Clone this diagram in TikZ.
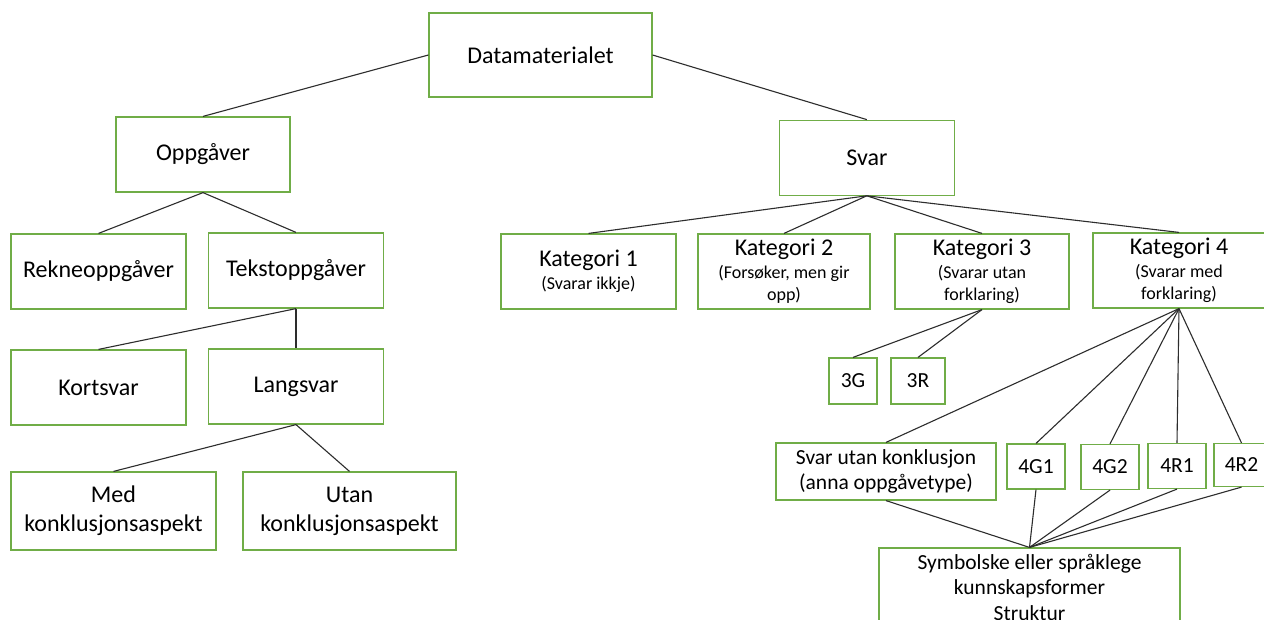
\documentclass[tikz,border=0pt]{standalone}
\usepackage{fontspec}
\setmainfont{Carlito}
\definecolor{boxgreen}{RGB}{112,173,71}
\definecolor{linegray}{RGB}{45,45,45}
\newcommand{\fbig}{\fontsize{24}{29}\selectfont}
\newcommand{\fmid}{\fontsize{21.5}{25.5}\selectfont}
\newcommand{\fsub}{\fontsize{18}{22.5}\selectfont}
\begin{document}
\begin{tikzpicture}[x=1pt,y=-1pt,
  box/.style={draw=boxgreen, line width=1.2pt, inner sep=0pt, align=center, font=\fbig},
  midbox/.style={box, font=\fmid},
  katbox/.style={box, font=\fsub},
  link/.style={draw=linegray, line width=1.1pt}]
\useasboundingbox (0,0) rectangle (1264,619);
\clip (0,0) rectangle (1264,619);
\fill[white] (0,0) rectangle (1264,619);

% left tree
\node[box, minimum width=223pt, minimum height=84pt] (data) at (540.5,55) {Datamaterialet};
\node[box, minimum width=174pt, minimum height=75pt] (opp) at (203,154.5) {Oppgåver};
\node[box, minimum width=175pt, minimum height=75pt] (rekne) at (98.5,271.5) {Rekneoppgåver};
\node[box, minimum width=175pt, minimum height=75pt] (tekst) at (296,270.5) {Tekstoppgåver};
\node[box, minimum width=175pt, minimum height=75pt] (kort) at (98.5,387.5) {Kortsvar};
\node[box, minimum width=175pt, minimum height=75pt] (lang) at (296,386.5) {Langsvar};
\node[box, minimum width=205pt, minimum height=78pt] (med) at (113.5,511) {Med\\konklusjonsaspekt};
\node[box, minimum width=213pt, minimum height=78pt] (utan) at (349.5,511) {Utan\\konklusjonsaspekt};

% right tree
\node[box, minimum width=175pt, minimum height=75pt] (svar) at (866.8,157.7) {Svar};
\node[katbox, minimum width=175pt, minimum height=75pt] (kat1) at (588.5,271.5) {{\fbig Kategori 1}\\(Svarar ikkje)};
\node[katbox, minimum width=172pt, minimum height=75pt] (kat2) at (784,271.5) {{\fbig Kategori 2}\\(Forsøker, men gir\\opp)};
\node[katbox, minimum width=174pt, minimum height=75pt] (kat3) at (982,271.5) {{\fbig Kategori 3}\\(Svarar utan\\forklaring)};
\node[katbox, minimum width=172pt, minimum height=75pt] (kat4) at (1179,270.5) {{\fbig Kategori 4}\\(Svarar med\\forklaring)};

\node[midbox, minimum width=48pt, minimum height=46pt] (g3) at (853,381) {3G};
\node[midbox, minimum width=54pt, minimum height=46pt] (r3) at (918,381) {3R};

\node[midbox, minimum width=220pt, minimum height=57pt] (svu) at (886,471.5) {Svar utan konklusjon\\(anna oppgåvetype)};
\node[midbox, minimum width=58pt, minimum height=45pt] (g41) at (1036,466.5) {4G1};
\node[midbox, minimum width=58pt, minimum height=45pt] (g42) at (1110,467) {4G2};
\node[midbox, minimum width=58pt, minimum height=45pt] (r41) at (1177,466) {4R1};
\node[midbox, minimum width=55pt, minimum height=43pt] (r42) at (1241.5,465) {4R2};

\node[midbox, minimum width=301pt, minimum height=78pt] (sym) at (1029.5,587) {Symbolske eller språklege\\kunnskapsformer\\Struktur};

% connectors
\draw[link] (data.west) -- (opp.north);
\draw[link] (data.east) -- (svar.north);
\draw[link] (opp.south) -- (rekne.north);
\draw[link] (opp.south) -- (tekst.north);
\draw[link] (tekst.south) -- (kort.north);
\draw[link] (tekst.south) -- (lang.north);
\draw[link] (lang.south) -- (med.north);
\draw[link] (lang.south) -- (utan.north);

\foreach \k in {kat1,kat2,kat3,kat4} \draw[link] (svar.south) -- (\k.north);
\draw[link] (kat3.south) -- (g3.north);
\draw[link] (kat3.south) -- (r3.north);
\foreach \k in {svu,g41,g42,r41,r42} {
  \draw[link] (kat4.south) -- (\k.north);
  \draw[link] (\k.south) -- (sym.north);
}
\end{tikzpicture}
\end{document}
